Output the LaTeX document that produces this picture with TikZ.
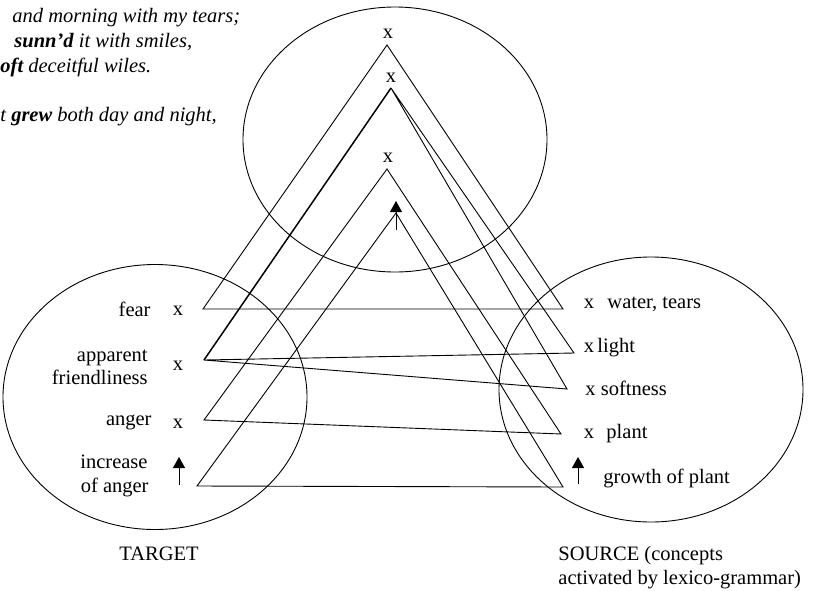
\documentclass[tikz,border=0pt]{standalone}
\usepackage{fontspec}
\setmainfont{Liberation Serif}
\usetikzlibrary{arrows.meta,shapes.geometric}
\newcommand\fsz{\fontsize{20.5}{24}\selectfont}
\begin{document}
\begin{tikzpicture}[x=1pt,y=-1pt,line width=0.9pt,
  lbl/.style={inner sep=0pt,font=\fsz},
  poem/.style={inner sep=0pt,font=\fsz\itshape,anchor=base west},
  space/.style={draw,ellipse,inner sep=0pt,minimum width=304pt,minimum height=265pt,line width=0.9pt},
  tri/.style={line width=0.9pt,line join=miter},
  uparrow/.style={line width=1pt,-{Triangle[width=12pt,length=11pt]}}]
\useasboundingbox (0,0) rectangle (814,590);
\clip (0,0) rectangle (814,590);
% mental spaces
\node[space] (blend) at (395,139.5) {};
\node[space] (target) at (155,397) {};
\node[space] (source) at (651,389.5) {};
% poem
\node[poem] (p1) at (12,22) {and morning with my tears;};
\node[poem] (p2) at (14,47) {\textbf{sunn’d} it with smiles,};
\node[poem] (p3) at (0,72) {\textbf{oft} deceitful wiles.};
\node[poem] (p4) at (0,121) {t \textbf{grew} both day and night,};
% vertices
\coordinate (A1) at (387,45);
\coordinate (A2) at (391,88);
\coordinate (A3) at (387,169);
\coordinate (A4) at (396,213);
\coordinate (L1) at (203,309);
\coordinate (L2) at (204,360);
\coordinate (L3) at (204,420);
\coordinate (L4) at (197,486);
\coordinate (R1) at (563,309);
\coordinate (R2) at (574,353);
\coordinate (R3) at (567,389);
\coordinate (R4) at (561,434);
\coordinate (R5) at (563,487);
% blend marks
\node[lbl,anchor=base] (bx1) at (388,38) {x};
\node[lbl,anchor=base] (bx2) at (391,82) {x};
\node[lbl,anchor=base] (bx3) at (388,162) {x};
\coordinate (ba0) at (396,230);
\coordinate (ba1) at (396,201);
\draw[uparrow] (ba0) -- (ba1);
% triangles
\draw[tri] (A1) -- (L1) -- (R1) -- cycle;
\draw[tri] (A2) -- (R2) -- (L2) -- (R3) -- cycle;
\draw[line width=1.5pt] (A2) -- (L2);
\draw[tri] (A3) -- (L3) -- (R4) -- cycle;
\draw[tri] (A4) -- (L4) -- (R5) -- cycle;
% target labels
\node[lbl,anchor=base east] (fear) at (151,316) {fear};
\node[lbl,anchor=base east] (app) at (148,361) {apparent};
\node[lbl,anchor=base east] (fri) at (148,384) {friendliness};
\node[lbl,anchor=base east] (ang) at (152,425) {anger};
\node[lbl,anchor=base east] (inc) at (148,468) {increase};
\node[lbl,anchor=base east] (ofa) at (149,492) {of anger};
\node[lbl,anchor=base] (tx1) at (178,315) {x};
\node[lbl,anchor=base] (tx2) at (178,370) {x};
\node[lbl,anchor=base] (tx3) at (178,428) {x};
\coordinate (ta0) at (179,485);
\coordinate (ta1) at (179,457);
\draw[uparrow] (ta0) -- (ta1);
% source labels
\node[lbl,anchor=base] (sx1) at (589,308) {x};
\node[lbl,anchor=base west] (wat) at (607,308) {water, tears};
\node[lbl,anchor=base] (sx2) at (589,352) {x};
\node[lbl,anchor=base west] (lig) at (597,352) {light};
\node[lbl,anchor=base west] (sof) at (585,395) {x softness};
\node[lbl,anchor=base] (sx4) at (589,438) {x};
\node[lbl,anchor=base west] (pla) at (606,438) {plant};
\coordinate (sa0) at (578,484);
\coordinate (sa1) at (578,457);
\draw[uparrow] (sa0) -- (sa1);
\node[lbl,anchor=base west] (gro) at (603,483) {growth of plant};
% captions
\node[lbl,anchor=base west] (tcap) at (119,560) {TARGET};
\node[lbl,anchor=base west] (scap1) at (558,560) {SOURCE (concepts};
\node[lbl,anchor=base west] (scap2) at (558,584) {activated by lexico-grammar)};
\end{tikzpicture}
\end{document}
